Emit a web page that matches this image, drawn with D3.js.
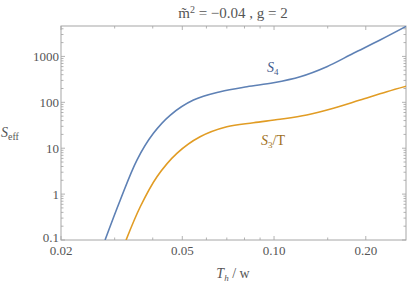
<!DOCTYPE html>
<html>
<head>
<meta charset="utf-8">
<script src="https://cdn.jsdelivr.net/npm/d3@7"></script>
<style>
  body { margin: 0; background: #fff; }
  svg text { font-family: "Times New Roman", "Liberation Serif", Tinos, "DejaVu Serif", serif; }
</style>
</head>
<body>
<div id="chart"></div>
<script>
// temperature T_h / w
const s4T = [0.0279, 0.0313, 0.0355, 0.0402, 0.0457, 0.0544, 0.0666, 0.0815, 0.0996, 0.1218, 0.149, 0.1821, 0.2228, 0.2726];
const s4Val = [0.1, 0.744, 5.53, 21.1, 52.8, 112, 170, 219, 267, 361, 597, 1169, 2275, 4592];
const s3T = [0.0327, 0.0364, 0.0413, 0.048, 0.0572, 0.070, 0.0856, 0.1047, 0.128, 0.1566, 0.1916, 0.2344, 0.2726];
const s3Val = [0.1, 0.53, 2.39, 7.74, 17.8, 29.4, 35.9, 42.6, 52.8, 74, 112, 170, 226];

const xTicks = [0.02, 0.05, 0.10, 0.20];
const xMinor = [0.03, 0.04, 0.06, 0.07, 0.08, 0.09, 0.15];
const yTicks = [0.1, 1, 10, 100, 1000];

function drawChart() {
  const W = 411, H = 284;
  const margin = { top: 26, right: 5, bottom: 44, left: 61 };
  const width = W - margin.left - margin.right;
  const height = H - margin.top - margin.bottom;

  const svg = d3.select("#chart").append("svg")
    .attr("width", W).attr("height", H);

  const g = svg.append("g")
    .attr("transform", `translate(${margin.left},${margin.top})`);

  const x = d3.scaleLog().domain([0.02, 0.271]).range([0, width]);
  const y = d3.scaleLog().domain([0.1, 4600]).range([height, 0]);

  // minor y ticks 2..9 per decade
  const yMinor = [];
  for (let d = 0.1; d < 5000; d *= 10) {
    for (let k = 2; k <= 9; k++) {
      const v = +(d * k).toPrecision(3);
      if (v < 4600) yMinor.push(v);
    }
  }

  const tickCol = "#b3b3b3";
  // ticks on all four sides, pointing inward
  xTicks.forEach(t => {
    g.append("line").attr("x1", x(t)).attr("x2", x(t)).attr("y1", height).attr("y2", height - 4).attr("stroke", tickCol);
    g.append("line").attr("x1", x(t)).attr("x2", x(t)).attr("y1", 0).attr("y2", 4).attr("stroke", tickCol);
  });
  xMinor.forEach(t => {
    g.append("line").attr("x1", x(t)).attr("x2", x(t)).attr("y1", height).attr("y2", height - 2.5).attr("stroke", tickCol);
    g.append("line").attr("x1", x(t)).attr("x2", x(t)).attr("y1", 0).attr("y2", 2.5).attr("stroke", tickCol);
  });
  yTicks.forEach(t => {
    g.append("line").attr("y1", y(t)).attr("y2", y(t)).attr("x1", 0).attr("x2", 4).attr("stroke", tickCol);
    g.append("line").attr("y1", y(t)).attr("y2", y(t)).attr("x1", width).attr("x2", width - 4).attr("stroke", tickCol);
  });
  yMinor.forEach(t => {
    g.append("line").attr("y1", y(t)).attr("y2", y(t)).attr("x1", 0).attr("x2", 2.5).attr("stroke", tickCol);
    g.append("line").attr("y1", y(t)).attr("y2", y(t)).attr("x1", width).attr("x2", width - 2.5).attr("stroke", tickCol);
  });

  // frame
  g.append("rect")
    .attr("width", width).attr("height", height)
    .attr("fill", "none").attr("stroke", "#a6a6a6").attr("stroke-width", 1);

  // tick labels
  g.selectAll(".xlab").data(xTicks).enter().append("text")
    .attr("x", d => x(d)).attr("y", height + 15)
    .attr("text-anchor", "middle").style("font-size", "13px").attr("fill", "#555")
    .text(d => d.toFixed(2));

  g.selectAll(".ylab").data(yTicks).enter().append("text")
    .attr("x", -2).attr("y", d => y(d) + (d === 0.1 ? 2 : 4.5))
    .attr("text-anchor", "end").style("font-size", "13px").attr("fill", "#555")
    .text(d => d3.format("")(d));

  // curves
  g.append("clipPath").attr("id", "clip")
    .append("rect").attr("width", width).attr("height", height);

  const line = d3.line().x(d => x(d[0])).y(d => y(d[1])).curve(d3.curveCatmullRom);

  g.append("path")
    .datum(d3.zip(s4T, s4Val))
    .attr("clip-path", "url(#clip)")
    .attr("fill", "none").attr("stroke", "#5e81b5").attr("stroke-width", 1.6)
    .attr("d", line);

  g.append("path")
    .datum(d3.zip(s3T, s3Val))
    .attr("clip-path", "url(#clip)")
    .attr("fill", "none").attr("stroke", "#e19c24").attr("stroke-width", 1.6)
    .attr("d", line);

  // curve labels
  const l1 = g.append("text").attr("x", 206).attr("y", 46).style("font-size", "14px").attr("fill", "#3f5a8c");
  l1.append("tspan").style("font-style", "italic").text("S");
  l1.append("tspan").attr("dy", 3).style("font-size", "9px").text("4");

  const l2 = g.append("text").attr("x", 200).attr("y", 119).style("font-size", "14px").attr("fill", "#a0701c");
  l2.append("tspan").style("font-style", "italic").text("S");
  l2.append("tspan").attr("dy", 3).style("font-size", "9px").text("3");
  l2.append("tspan").attr("dy", -3).text("/T");

  // title
  const t = svg.append("text").attr("x", 233).attr("y", 18).attr("text-anchor", "middle").style("font-size", "15px").attr("fill", "#555");
  t.append("tspan").text("m\u0303");
  t.append("tspan").attr("dy", -5).style("font-size", "10px").text("2");
  t.append("tspan").attr("dy", 5).text(" = \u22120.04 , g = 2");

  // axis labels
  const yl = svg.append("text").attr("x", 1).attr("y", 137).style("font-size", "14px").attr("fill", "#555");
  yl.append("tspan").style("font-style", "italic").text("S");
  yl.append("tspan").attr("dy", 3).style("font-size", "10px").text("eff");

  const xl = svg.append("text").attr("x", 233).attr("y", 278).attr("text-anchor", "middle").style("font-size", "14px").attr("fill", "#555");
  xl.append("tspan").style("font-style", "italic").text("T");
  xl.append("tspan").attr("dy", 3).style("font-size", "9px").style("font-style", "italic").text("h");
  xl.append("tspan").attr("dy", -3).text(" / w");
}

drawChart();
</script>
</body>
</html>
